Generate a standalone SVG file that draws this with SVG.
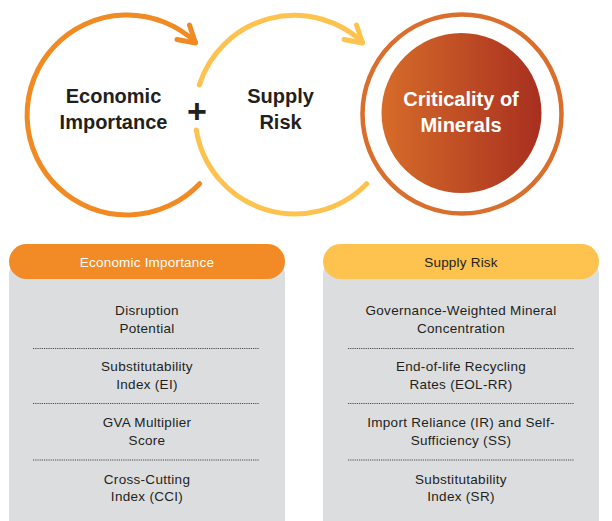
<svg xmlns="http://www.w3.org/2000/svg" width="612" height="521" viewBox="0 0 612 521">
<defs>
<linearGradient id="crit" x1="0" y1="0" x2="1" y2="0">
<stop offset="0" stop-color="#D66C29"/>
<stop offset="1" stop-color="#A82F20"/>
</linearGradient>
<style>
.big{font-family:"Liberation Sans",Arial,sans-serif;font-weight:bold;font-size:20px;text-anchor:middle;fill:#231F20}
.item{font-family:"Liberation Sans",Arial,sans-serif;font-size:13.5px;text-anchor:middle;fill:#231F20;letter-spacing:0.3px}
.hdr{font-family:"Liberation Sans",Arial,sans-serif;font-size:13.5px;text-anchor:middle;letter-spacing:0.2px}
.dots{stroke:#4a4a4a;stroke-width:1.2;stroke-dasharray:1.2 1}
.ring{fill:none;stroke-width:5;stroke-linecap:round;stroke-linejoin:round}
.panel{fill:#DCDDDF}
</style>
</defs>
<rect width="612" height="521" fill="#FFFFFF"/>
<g id="connectors">
<path class="ring" stroke="#F18A22" d="M199.7 183.7 A100 100 0 1 1 195.5 42"/>
<polyline class="ring" stroke="#F18A22" points="177,39.5 195.5,43 189.5,25"/>
<path class="ring" stroke="#FEC34F" d="M366.7 183.7 A100 100 0 0 1 196.3 130"/>
<path class="ring" stroke="#FEC34F" d="M199.3 84.9 A100 100 0 0 1 362.5 42"/>
<polyline class="ring" stroke="#FEC34F" points="344,39.5 362.5,43 356.5,25"/>
</g>
<g id="economic-importance">
<text class="big" x="113.5" y="103">Economic</text>
<text class="big" x="113.5" y="129">Importance</text>
</g>
<g id="plus">
<text x="197" y="123" font-family="Liberation Sans, Arial, sans-serif" font-weight="bold" font-size="34" text-anchor="middle" fill="#231F20">+</text>
</g>
<g id="supply-risk">
<text class="big" x="280.5" y="103">Supply</text>
<text class="big" x="280.5" y="129">Risk</text>
</g>
<g id="criticality">
<circle cx="462" cy="114" r="99.5" fill="none" stroke="#DA6E2D" stroke-width="4.5"/>
<circle cx="461.5" cy="113" r="80" fill="url(#crit)"/>
<text class="big" x="461" y="106" style="fill:#FFFFFF">Criticality of</text>
<text class="big" x="461" y="132" style="fill:#FFFFFF">Minerals</text>
</g>
<g id="panel-economic">
<rect class="panel" x="9" y="262" width="276" height="280" rx="12"/>
<rect x="9" y="244" width="276" height="35" rx="17.5" fill="#F28B25"/>
<text class="hdr" x="147" y="267" fill="#FFFFFF">Economic Importance</text>
<text class="item" x="147" y="315">Disruption</text>
<text class="item" x="147" y="333">Potential</text>
<line class="dots" x1="33" y1="348.5" x2="259" y2="348.5"/>
<text class="item" x="147" y="371">Substitutability</text>
<text class="item" x="147" y="389">Index (EI)</text>
<line class="dots" x1="33" y1="403.5" x2="259" y2="403.5"/>
<text class="item" x="147" y="427">GVA Multiplier</text>
<text class="item" x="147" y="445">Score</text>
<line class="dots" x1="33" y1="460" x2="259" y2="460"/>
<text class="item" x="147" y="484">Cross-Cutting</text>
<text class="item" x="147" y="501">Index (CCI)</text>
</g>
<g id="panel-supply">
<rect class="panel" x="323" y="262" width="276" height="280" rx="12"/>
<rect x="323" y="244" width="276" height="35" rx="17.5" fill="#FEC24F"/>
<text class="hdr" x="461" y="267" fill="#231F20">Supply Risk</text>
<text class="item" x="461" y="315">Governance-Weighted Mineral</text>
<text class="item" x="461" y="333">Concentration</text>
<line class="dots" x1="348" y1="348.5" x2="574" y2="348.5"/>
<text class="item" x="461" y="371">End-of-life Recycling</text>
<text class="item" x="461" y="389">Rates (EOL-RR)</text>
<line class="dots" x1="348" y1="403.5" x2="574" y2="403.5"/>
<text class="item" x="461" y="427">Import Reliance (IR) and Self-</text>
<text class="item" x="461" y="445">Sufficiency (SS)</text>
<line class="dots" x1="348" y1="460" x2="574" y2="460"/>
<text class="item" x="461" y="484">Substitutability</text>
<text class="item" x="461" y="501">Index (SR)</text>
</g>
</svg>
